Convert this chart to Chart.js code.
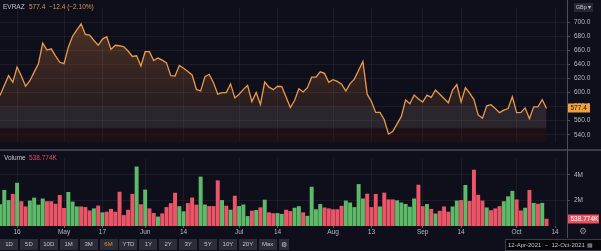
<!DOCTYPE html>
<html>
<head>
<meta charset="utf-8">
<script src="https://cdn.jsdelivr.net/npm/chart.js@4.4.0/dist/chart.umd.min.js"></script>
<style>
body { margin:0; background:#0f0f1b; width:601px; height:251px; overflow:hidden; position:relative;
       font-family:"Liberation Sans", Arial, sans-serif; }
canvas { position:absolute; left:0; }
#cP { top:0; }
#cV { top:150px; }
.t { position:absolute; font-size:6.5px; line-height:1; white-space:nowrap; color:#c3c4cc; }
.btn { position:absolute; top:239px; height:11px; width:18px; background:#2a2d38; color:#c3c4cc;
       font-size:6px; line-height:11px; text-align:center; }
#sep { position:absolute; left:0; top:148.5px; width:601px; height:2px; background:#3a3d49; }
#vline { position:absolute; left:567px; top:0; width:1px; height:238px; background:#4a4d5a; }
</style>
</head>
<body>
<canvas id="cP" width="601" height="150"></canvas>
<canvas id="cV" width="601" height="90"></canvas>
<div id="sep"></div>
<div id="vline"></div>

<div class="t" style="left:3px;top:4px;">EVRAZ</div>
<div class="t" style="left:29px;top:4px;color:#dc9650;">577.4 &nbsp;−12.4 (−2.10%)</div>
<div class="t" style="left:574px;top:3px;width:19px;height:9px;background:#262935;font-size:5.5px;line-height:9px;text-align:center;">GBp ▾</div>
<div class="t" style="left:4px;top:155px;">Volume</div>
<div class="t" style="left:29px;top:155px;color:#e0505f;">538.774K</div>
<div class="t" style="left:579px;top:227px;font-size:9px;color:#8a8d99;">⚙</div>

<div id="bar"></div>
<div class="t" style="left:505px;top:239px;width:93px;height:10px;background:#05050a;border:1px solid #3a3d49;font-size:6px;line-height:10px;padding-left:2px;">12-Apr-2021 &nbsp;−&nbsp; 12-Oct-2021 <span style="color:#9a9ca6;">▦</span></div>

<script>
// daily close, GBp (12-Apr-2021 .. 12-Oct-2021)
const close = [
  595.7, 610, 624, 614.8, 636.3, 623.6, 609, 616.8, 629.1, 641,
  670.4, 660.5, 662.2, 652.3, 643.1, 641, 664.5, 680.2, 689.1, 697.7,
  682.7, 681.6, 674.1, 667.3, 676.1, 679.5, 661.4, 667.3, 666.6, 665.2,
  659.1, 651.3, 652.3, 637.7, 658.1, 658.1, 645.5, 649.1, 646.1, 642.3,
  624, 623.6, 638.6, 634.5, 629.8, 625, 604.5, 602.2, 622.7, 626,
  614.1, 597.7, 600, 600, 612.3, 592.3, 597.7, 604.5, 610, 587.2,
  600, 583.1, 615, 607.7, 604.1, 609, 608.6, 593.6, 578.6, 588.6,
  605.5, 600.9, 606.9, 621.9, 621.9, 629.5, 627.3, 614.5, 618.2, 615.9,
  612, 602.2, 612.7, 619.1, 631.8, 644.1, 597.7, 587.2, 571.8, 571.8,
  561.3, 540.9, 544.5, 555.5, 566, 589.5, 584.1, 596.4, 590.9, 586.4,
  596.4, 593.2, 603.6, 597.7, 591.6, 585.5, 603.6, 611.4, 586.4, 606.9,
  599.1, 590, 568.1, 563.6, 581, 582.7, 577.3, 571.4, 575, 577.3,
  594, 571.4, 571.8, 578.2, 562.7, 579.6, 579.6, 590, 577.4
];
// volume, millions
const volume = [
  1.67, 2.79, 2.0, 2.48, 3.35, 1.91, 1.5, 1.96, 2.19, 1.64,
  2.12, 1.91, 1.91, 1.71, 2.39, 1.38, 2.63, 1.88, 1.5, 1.5,
  1.45, 1.19, 1.35, 1.57, 1.04, 1.09, 1.31, 1.09, 2.65, 0.83,
  1.24, 2.48, 4.62, 1.67, 2.82, 1.35, 0.99, 0.71, 0.96, 1.45,
  1.76, 2.57, 1.52, 1.12, 1.76, 2.2, 1.64, 3.83, 1.65, 1.53,
  1.53, 3.54, 2.0, 1.56, 1.25, 2.34, 1.53, 1.65, 0.75, 1.17,
  1.22, 1.43, 2.03, 1.04, 0.97, 0.98, 0.92, 1.24, 1.14, 1.4,
  1.52, 1.04, 0.77, 3.04, 1.28, 1.69, 1.42, 1.35, 1.28, 1.28,
  1.55, 1.96, 1.81, 1.45, 3.25, 2.12, 2.5, 1.45, 2.48, 1.5,
  2.58, 2.05, 2.05, 1.98, 1.81, 1.7, 1.48, 2.12, 3.2, 1.52,
  1.69, 1.31, 0.95, 1.16, 1.5, 1.09, 1.5, 1.96, 2.0, 3.18,
  1.93, 4.37, 2.41, 1.96, 1.42, 1.21, 1.35, 1.52, 1.91, 2.29,
  2.72, 2.05, 1.19, 1.4, 2.79, 1.78, 1.71, 1.78, 0.539
];
// 1 = up day (green), 0 = down day (red)
const upDay = [
  1,1,1,0,1,0,0,1,1,1, 1,0,0,0,0,0,1,1,1,0,
  0,0,1,0,1,0,0,0,0,0, 0,0,1,0,1,0,0,1,0,0,
  0,0,1,1,0,0,0,1,1,0, 0,0,1,0,1,0,1,1,1,0,
  1,0,1,0,0,1,1,0,0,1, 1,0,1,1,1,1,0,0,0,0,
  0,1,1,1,1,1,0,0,0,1, 0,0,0,1,1,1,1,1,0,0,
  1,0,1,0,0,0,1,1,0,1, 0,0,0,0,1,0,0,0,1,1,
  1,0,0,1,0,1,0,1,0
];
// time axis: trading-day index of each label
const tickIdx = [4, 15, 24, 34, 43, 56, 65, 78, 87, 99, 108, 121, 130];
const tickLbl = ['16', 'May', '17', 'Jun', '14', 'Jul', '14', 'Aug', '13', 'Sep', '14', 'Oct', '14'];
const priceTicks = [540, 560, 580, 600, 620, 640, 660, 680, 700];
const volTicks = [2, 4];
const buttons = ['1D', '5D', '10D', '1M', '3M', '6M', 'YTD', '1Y', '2Y', '3Y', '5Y', '10Y', '20Y', 'Max'];

const X_MAX = 132.8;
const GRID = 'rgba(255,255,255,0.055)';
const TXT = '#b9bac3';
const FONT = { family: '"Liberation Sans", Arial, sans-serif', size: 6.5 };

// toolbar
const bar = document.getElementById('bar');
buttons.forEach((b, i) => {
    const d = document.createElement('div');
    d.className = 'btn';
    d.style.left = (i * 19.9) + 'px';
    d.textContent = b;
    if (b === '6M') d.style.color = '#e8892f';
    bar.appendChild(d);
});
const g = document.createElement('div');
g.className = 'btn';
g.style.left = '279px';
g.style.width = '10px';
g.style.fontSize = '7px';
g.textContent = '⚙';
bar.appendChild(g);

function lastLabel(id, bg, fg, text) {
    return {
        id: id,
        afterDraw(chart) {
            const ds = chart.data.datasets[0].data;
            const y = chart.scales.y.getPixelForValue(ds[ds.length - 1].y);
            const c = chart.ctx;
            c.save();
            c.fillStyle = bg;
            c.fillRect(568, Math.round(y) - 4.5, text.length > 6 ? 31 : 22, 9);
            c.fillStyle = fg;
            c.font = '6.5px "Liberation Sans", Arial, sans-serif';
            c.textBaseline = 'middle';
            c.fillText(text, 570.5, Math.round(y));
            c.restore();
        }
    };
}

function areaFill(context) {
    const { ctx, chartArea } = context.chart;
    if (!chartArea) return null;
    const t = chartArea.top, h = chartArea.bottom - chartArea.top;
    const s = y => Math.min(1, Math.max(0, (y - t) / h));
    const gr = ctx.createLinearGradient(0, t, 0, chartArea.bottom);
    gr.addColorStop(s(20), 'rgba(200,120,60,0.34)');
    gr.addColorStop(s(105), 'rgba(170,100,55,0.17)');
    gr.addColorStop(s(107), 'rgba(130,105,105,0.25)');
    gr.addColorStop(s(127), 'rgba(130,105,105,0.24)');
    gr.addColorStop(s(129), 'rgba(60,20,10,0.3)');
    gr.addColorStop(1, 'rgba(60,20,10,0.3)');
    return gr;
}

new Chart(document.getElementById('cP'), {
    type: 'line',
    data: {
        datasets: [{
            data: close.map((v, i) => ({ x: i, y: v })),
            borderColor: '#ea9a48',
            borderWidth: 1.3,
            pointRadius: 0,
            tension: 0,
            fill: 'start',
            backgroundColor: areaFill
        }]
    },
    options: {
        responsive: false,
        animation: false,
        layout: { padding: { top: 5, left: 0, right: 0, bottom: 0 } },
        plugins: { legend: { display: false }, tooltip: { enabled: false } },
        scales: {
            x: {
                type: 'linear', min: 0, max: X_MAX,
                afterBuildTicks: s => { s.ticks = tickIdx.map(v => ({ value: v })); },
                ticks: { display: false },
                grid: { color: GRID, drawTicks: false },
                border: { display: false },
                afterFit: s => { s.height = 5; }
            },
            y: {
                position: 'right', min: 529.5, max: 720.45,
                afterBuildTicks: s => { s.ticks = priceTicks.map(v => ({ value: v })); },
                ticks: { callback: v => v.toFixed(1), color: TXT, font: FONT, padding: 4 },
                grid: { color: GRID, tickLength: 3, tickColor: '#4a4d5a' },
                border: { display: false },
                afterFit: s => { s.width = 34; }
            }
        }
    },
    plugins: [lastLabel('lp', '#f0a23c', '#1b1408', '577.4')]
});

new Chart(document.getElementById('cV'), {
    type: 'bar',
    data: {
        datasets: [{
            data: volume.map((v, i) => ({ x: i, y: v })),
            backgroundColor: upDay.map(u => u ? '#5cba69' : '#ec5568'),
            barThickness: 3.3,
            borderWidth: 0
        }]
    },
    options: {
        responsive: false,
        animation: false,
        layout: { padding: { top: 2, left: 0, right: 0, bottom: 0 } },
        plugins: { legend: { display: false }, tooltip: { enabled: false } },
        scales: {
            x: {
                type: 'linear', min: 0, max: X_MAX, offset: false,
                afterBuildTicks: s => { s.ticks = tickIdx.map(v => ({ value: v })); },
                ticks: {
                    callback: v => tickLbl[tickIdx.indexOf(v)],
                    color: TXT, font: FONT, padding: 0, autoSkip: false, maxRotation: 0
                },
                grid: { color: GRID, offset: false, tickLength: 2, tickColor: '#5a5d6a' },
                border: { display: false },
                afterFit: s => { s.height = 14; }
            },
            y: {
                position: 'right', min: 0, max: 5.32,
                afterBuildTicks: s => { s.ticks = volTicks.map(v => ({ value: v })); },
                ticks: { callback: v => v + 'M', color: TXT, font: FONT, padding: 4 },
                grid: { color: GRID, tickLength: 3, tickColor: '#4a4d5a' },
                border: { display: false },
                afterFit: s => { s.width = 34; }
            }
        }
    },
    plugins: [lastLabel('lv', '#e8515f', '#ffffff', '538.774K')]
});
</script>
</body>
</html>
